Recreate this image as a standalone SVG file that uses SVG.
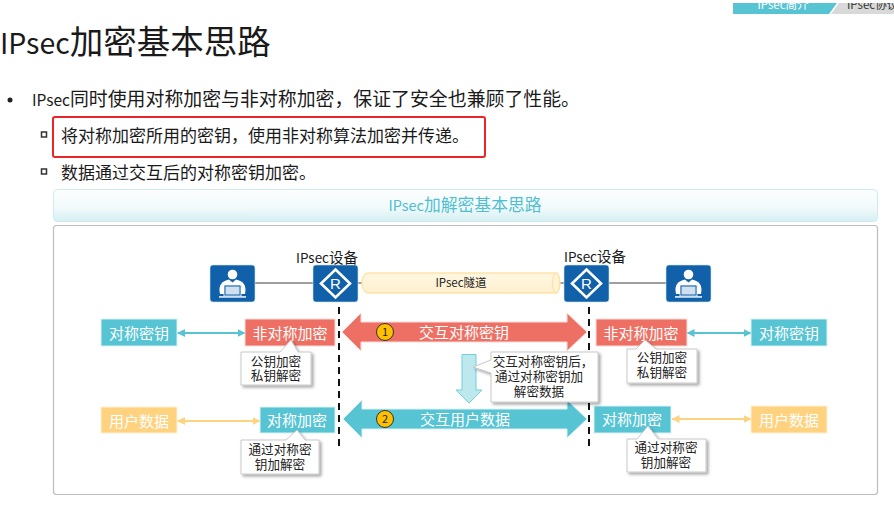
<svg xmlns="http://www.w3.org/2000/svg" width="894" height="505" viewBox="0 0 894 505">
<style>
text{font-family:"Noto Sans CJK SC","Noto Sans",sans-serif;fill:#1a1a1a}
.c{text-anchor:middle}
.w{fill:#fff;font-size:15px}
.cb{font-size:12.600px;fill:#222}
.teal{fill:#57c4d4;stroke:#d9f1f5;stroke-width:1}
.red{fill:#ee7064;stroke:#fbdcd8;stroke-width:1}
.yel{fill:#ffd27f;stroke:#fff0d6;stroke-width:1}
.call{fill:#fff;stroke:#c8c8c8;stroke-width:1;filter:url(#sh)}
.blue{fill:#1160aa;stroke:#cfe0f0;stroke-width:.6}
.dash{stroke:#111;stroke-width:2;stroke-dasharray:7 5;fill:none}
.gl{stroke:#808080;stroke-width:1.500;fill:none}
.num{fill:#ffc000;stroke:#333;stroke-width:1}
</style>
<defs>
<linearGradient id="hd" x1="0" y1="0" x2="0" y2="1"><stop offset="0" stop-color="#fdfefe"/><stop offset=".55" stop-color="#f2fafb"/><stop offset="1" stop-color="#d5eff3"/></linearGradient>
<linearGradient id="tun" x1="0" y1="0" x2="0" y2="1"><stop offset="0" stop-color="#fff7e2"/><stop offset="1" stop-color="#fff0cf"/></linearGradient>
<filter id="sh" x="-15%" y="-15%" width="135%" height="140%"><feDropShadow dx="2" dy="2" stdDeviation="1.500" flood-color="#000" flood-opacity=".35"/></filter>
<marker id="mt" viewBox="0 0 8 8" refX="7.500" refY="4" markerWidth="8" markerHeight="8" orient="auto-start-reverse" markerUnits="userSpaceOnUse"><path d="M0 0L8 4L0 8z" fill="#57c4d4"/></marker>
<marker id="my" viewBox="0 0 8 8" refX="7.500" refY="4" markerWidth="8" markerHeight="8" orient="auto-start-reverse" markerUnits="userSpaceOnUse"><path d="M0 0L8 4L0 8z" fill="#ffd27f"/></marker>
<clipPath id="tabclip"><rect x="730" y="3" width="164" height="11"/></clipPath>
<g id="person"><circle cx="22.500" cy="9.500" r="4.800" fill="#fff"/><path d="M10 29c-2-9 2-13 9-14.500l3.500 3 3.500-3c7 1.500 11 5.500 9 14.500z" fill="#fff"/><rect x="14" y="20" width="17" height="11" fill="#1160aa" stroke="#fff" stroke-width=".8"/><rect x="15.500" y="21.500" width="14" height="8" fill="#cfe0f0"/><rect x="9" y="31" width="27" height="1.800" fill="#cfe0f0"/></g>
<g id="router"><path d="M22.500 4.500L37 18.500L22.500 32.500L8 18.500z" fill="none" stroke="#fff" stroke-width="2.600"/><text x="22.500" y="24" class="c" style="fill:#fff;font-size:15px;font-family:'Liberation Sans',sans-serif">R</text></g>
</defs>
<rect width="894" height="505" fill="#fff"/>

<g id="tabs">
<path d="M733 3H837L829 14H733z" fill="#57c4d4"/>
<path d="M839 3H894V14H831z" fill="#d9d9d9"/>
<g clip-path="url(#tabclip)"><text x="783" y="9" class="c" style="font-size:11.500px;fill:#fff">IPsec简介</text><text x="847" y="9" style="font-size:11.500px;fill:#333">IPsec协议</text></g>
</g>

<g id="title"><text x="0" y="54" style="font-size:33.500px"><tspan style="font-size:28.500px">IPsec</tspan>加密基本思路</text></g>
<g id="bullets">
<circle cx="10" cy="100" r="2.500" fill="#222"/>
<text x="32" y="106" style="font-size:18.900px"><tspan style="font-size:15.500px">IPsec</tspan>同时使用对称加密与非对称加密，保证了安全也兼顾了性能。</text>
<rect x="41.500" y="132" width="5" height="5" fill="#fff" stroke="#333" stroke-width="1.500"/>
<text x="61" y="142" style="font-size:17px">将对称加密所用的密钥，使用非对称算法加密并传递。</text>
<rect x="41.500" y="169" width="5" height="5" fill="#fff" stroke="#333" stroke-width="1.500"/>
<text x="61" y="179" style="font-size:17px">数据通过交互后的对称密钥加密。</text>
<rect x="53" y="117" width="432" height="40" rx="2" fill="none" stroke="#e8262a" stroke-width="2"/>
</g>

<g id="header"><rect x="53.500" y="189.500" width="824" height="32" rx="4" fill="url(#hd)" stroke="#cfeaef"/><text x="465" y="211" class="c" style="font-size:16.800px;fill:#4fbfd0"><tspan style="font-size:14.500px">IPsec</tspan>加解密基本思路</text></g>
<rect id="frame" x="53.500" y="225.500" width="824" height="269" rx="3" fill="#fff" stroke="#bdbdbd" stroke-width="1.200"/>

<g id="connectors">
<path class="gl" d="M255 283H313M358 283H363M558 283H564M609 283H666"/>
<path class="dash" d="M339 307V447M589 307V447"/>
<path d="M177.500 333H245" stroke="#57c4d4" stroke-width="2" marker-start="url(#mt)" marker-end="url(#mt)"/>
<path d="M687 333H751" stroke="#57c4d4" stroke-width="2" marker-start="url(#mt)" marker-end="url(#mt)"/>
<path d="M177.500 421H260" stroke="#ffd27f" stroke-width="2" marker-start="url(#my)" marker-end="url(#my)"/>
<path d="M672 419H751" stroke="#ffd27f" stroke-width="2" marker-start="url(#my)" marker-end="url(#my)"/>
</g>

<g id="tunnel"><path d="M368 273H556a4 10 0 0 1 0 20H368a6 10 0 0 1 0-20z" fill="url(#tun)" stroke="#fde3a8" stroke-width="1.300"/><ellipse cx="556" cy="283" rx="3.500" ry="10" fill="#fff4da" stroke="#fde3a8" stroke-width="1.300"/><text x="461" y="287" class="c" style="font-size:11.500px;fill:#222">IPsec隧道</text></g>

<g id="user-left"><rect x="210" y="265" width="45" height="37" rx="3" class="blue"/><use href="#person" x="210" y="265"/></g>
<g id="router-left"><rect x="313" y="265" width="45" height="37" rx="3" class="blue"/><use href="#router" x="313" y="265"/><text x="327" y="263" class="c" style="font-size:14.500px"><tspan style="font-size:13.500px">IPsec</tspan>设备</text></g>
<g id="router-right"><rect x="564" y="265" width="45" height="37" rx="3" class="blue"/><use href="#router" x="564" y="265"/><text x="595" y="262" class="c" style="font-size:14.500px"><tspan style="font-size:13.500px">IPsec</tspan>设备</text></g>
<g id="user-right"><rect x="666" y="265" width="45" height="37" rx="3" class="blue"/><use href="#person" x="666" y="265"/></g>

<g id="arrow-key"><path class="red" d="M342 332L361 313V322H567V313L587 332L567 351V342H361V351z"/><circle class="num" cx="385" cy="332" r="8.500"/><text x="385" y="336" class="c" style="font-size:11px;fill:#222">1</text><text x="464" y="338" class="c w">交互对称密钥</text></g>
<g id="arrow-data"><path class="teal" d="M343 419L362 400V409H567V400L587 419L567 438V429H362V438z"/><circle class="num" cx="385" cy="419" r="8.500"/><text x="385" y="423" class="c" style="font-size:11px;fill:#222">2</text><text x="465" y="425" class="c w">交互用户数据</text></g>

<g id="key-left"><rect x="101" y="319" width="76" height="27" class="teal"/><text x="139" y="339" class="c w">对称密钥</text></g>
<g id="asym-left"><rect x="245" y="319" width="90" height="27" class="red"/><text x="290" y="339" class="c w">非对称加密</text></g>
<g id="data-left"><rect x="101" y="407" width="76" height="26" class="yel"/><text x="139" y="427" class="c w">用户数据</text></g>
<g id="sym-left"><rect x="260" y="407" width="75" height="26" class="teal"/><text x="297" y="426" class="c w">对称加密</text></g>
<g id="asym-right"><rect x="596" y="319" width="91" height="27" class="red"/><text x="641" y="339" class="c w">非对称加密</text></g>
<g id="key-right"><rect x="751" y="319" width="76" height="27" class="teal"/><text x="789" y="339" class="c w">对称密钥</text></g>
<g id="sym-right"><rect x="594" y="406" width="77" height="27" class="teal"/><text x="632" y="425" class="c w">对称加密</text></g>
<g id="data-right"><rect x="751" y="406" width="76" height="27" class="yel"/><text x="789" y="426" class="c w">用户数据</text></g>

<g id="down-arrow"><path d="M462 354.500H476V390H482L469 403L456 390H462z" fill="#bce8ee" stroke="#6fd0de"/></g>

<g id="callout-asym-left"><path class="call" d="M241 352H280L291 340L298 352H311V385H241z"/><text class="c cb"><tspan x="276" y="366">公钥加密</tspan><tspan x="276" y="380">私钥解密</tspan></text></g>
<g id="callout-sym-left"><path class="call" d="M241 440H286L297 430L305 440H319V474H241z"/><text class="c cb"><tspan x="280" y="454">通过对称密</tspan><tspan x="280" y="469">钥加解密</tspan></text></g>
<g id="callout-asym-right"><path class="call" d="M627 349H636L645 340L656 349H697V383H627z"/><text class="c cb"><tspan x="662" y="362">公钥加密</tspan><tspan x="662" y="377">私钥解密</tspan></text></g>
<g id="callout-sym-right"><path class="call" d="M627 439H637L648 426L658 439H706V472H627z"/><text class="c cb"><tspan x="666" y="452">通过对称密</tspan><tspan x="666" y="467">钥加解密</tspan></text></g>
<g id="callout-middle"><path class="call" d="M491 352H598V402H491V373L473 367L491 360z"/><text class="c cb"><tspan x="543" y="366">交互对称密钥后，</tspan><tspan x="539" y="381">通过对称密钥加</tspan><tspan x="539" y="396">解密数据</tspan></text></g>
</svg>
